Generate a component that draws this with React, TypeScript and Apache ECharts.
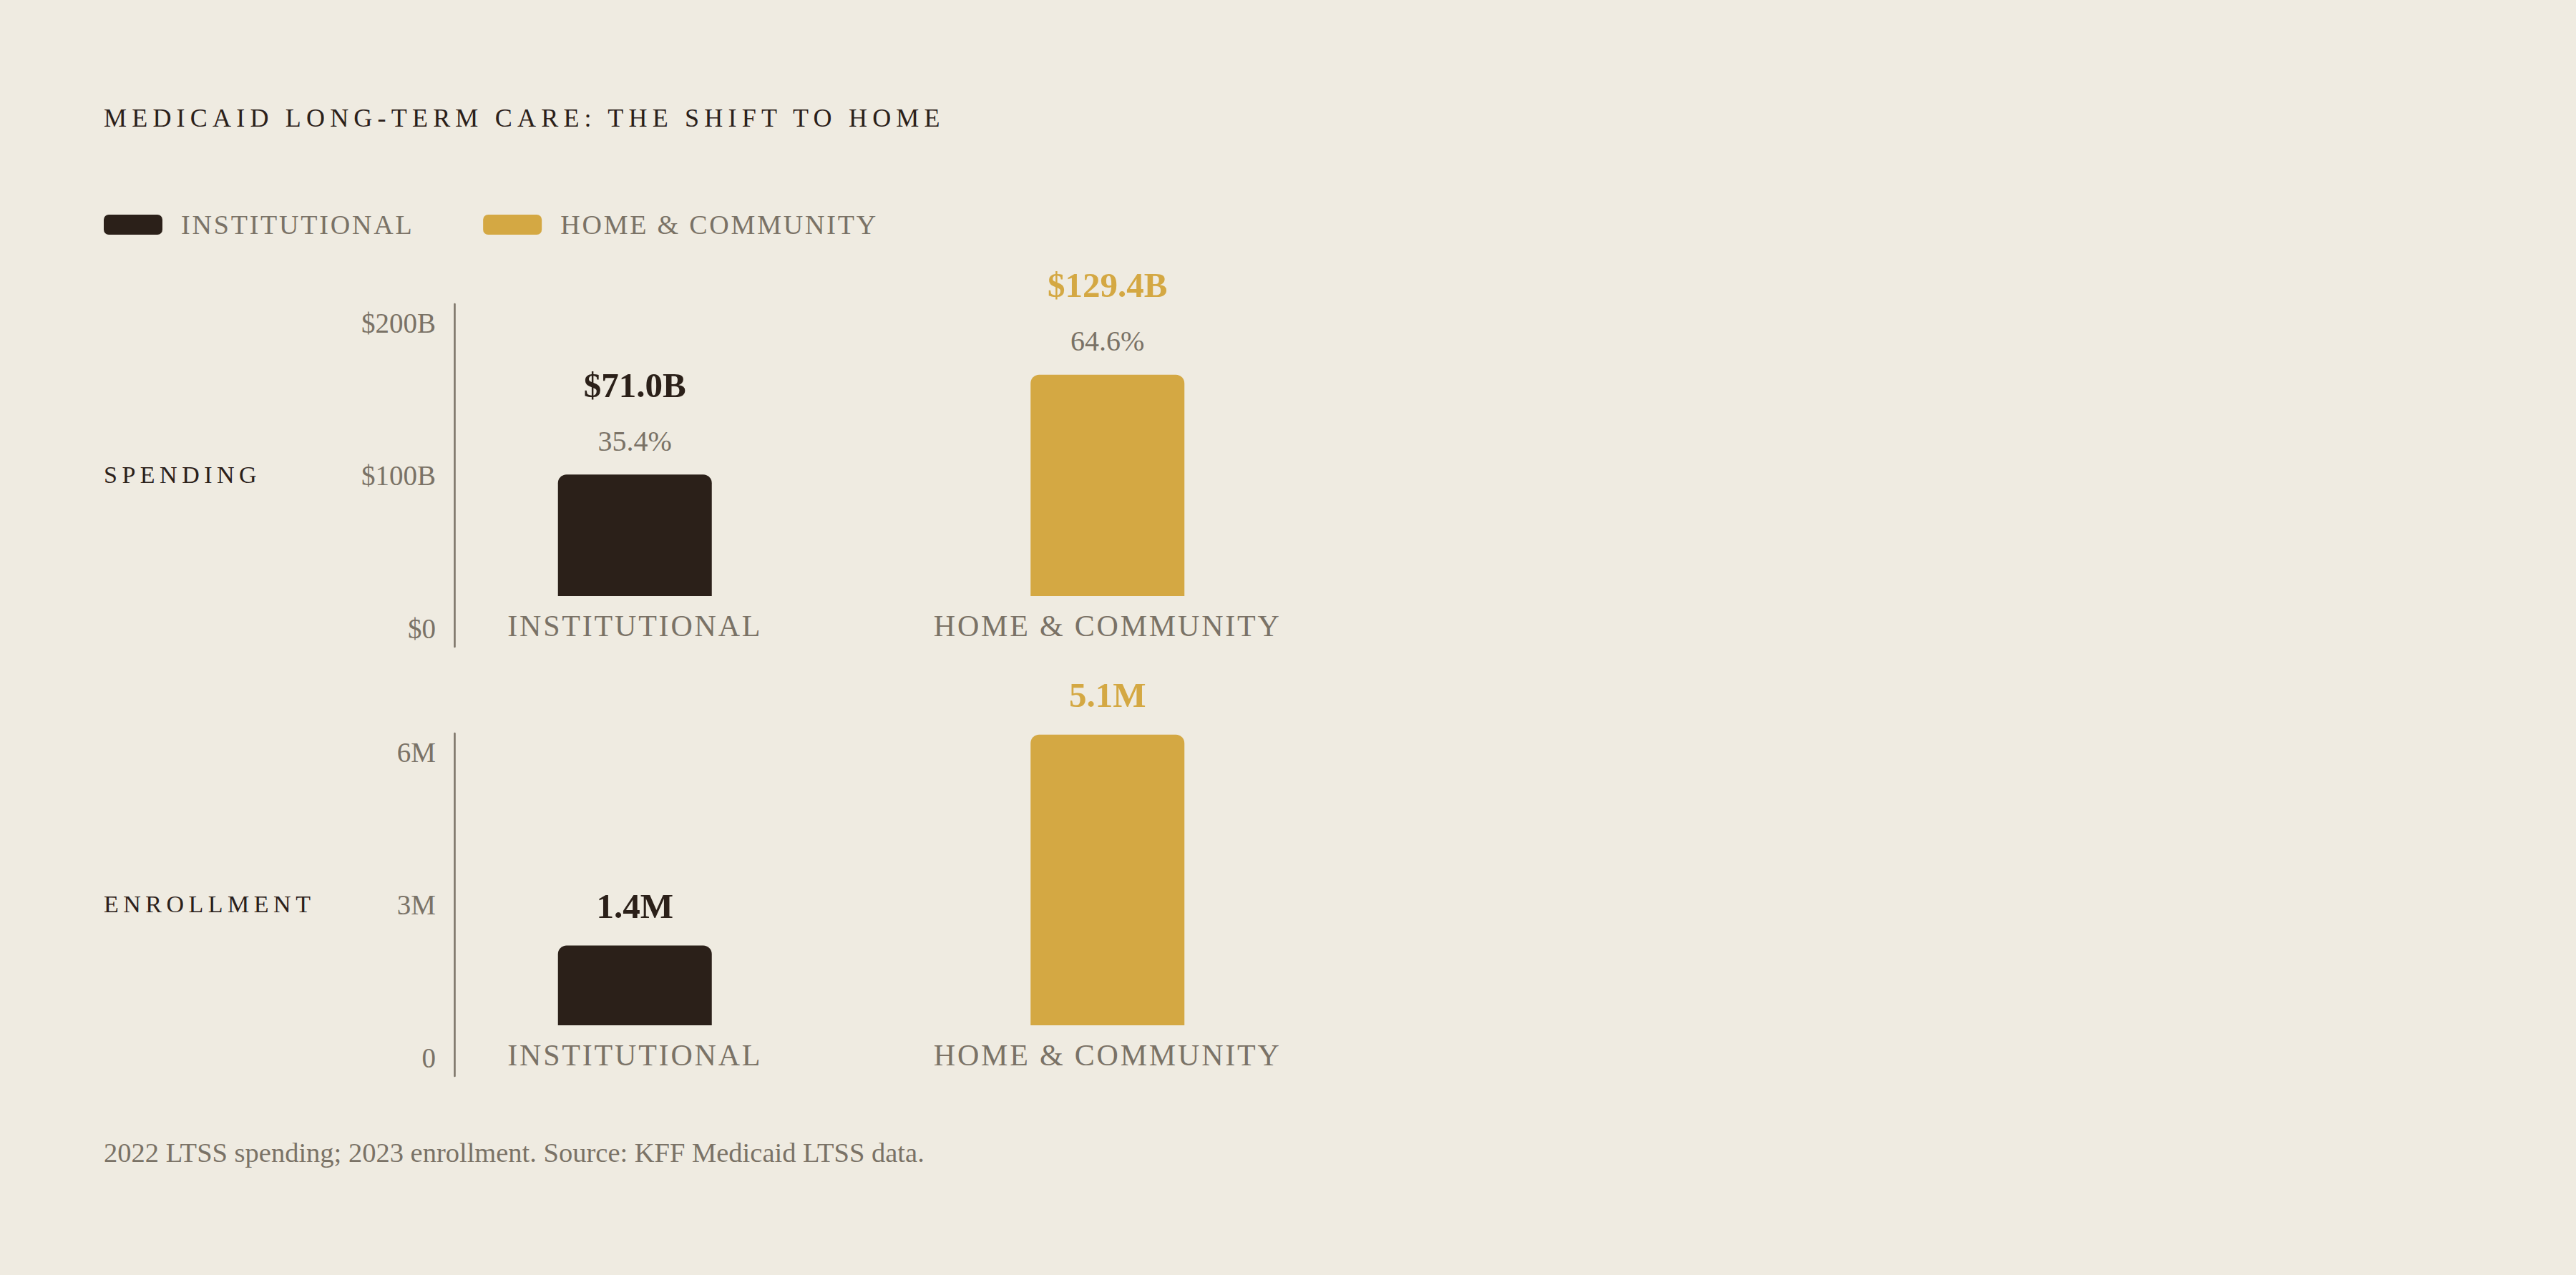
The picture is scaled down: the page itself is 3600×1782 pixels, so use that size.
import { useEffect, useRef } from "react";
import * as echarts from "echarts";

const chartTitle = "MEDICAID LONG-TERM CARE: THE SHIFT TO HOME";
const footnote = "2022 LTSS spending; 2023 enrollment. Source: KFF Medicaid LTSS data.";
const categories = ["INSTITUTIONAL", "HOME & COMMUNITY"];
const spendingBillions = [71.0, 129.4];
const spendingShare = [35.4, 64.6];
const enrollmentMillions = [1.4, 5.1];
const spendingTicks = [0, 100, 200];
const spendingTickLabels = ["$0", "$100B", "$200B"];
const enrollmentTicks = [0, 3, 6];
const enrollmentTickLabels = ["0", "3M", "6M"];

const BG = "#efebe1";
const INK = "#2b2019";
const GOLD = "#d4a843";
const MUTED = "#7a7266";
const barColors = [INK, GOLD];
const FONT = "'Liberation Serif', 'DejaVu Serif', serif";

// echarts has no letterSpacing, so tracking is put on the svg <text> after render
const tracking: Record<string, number> = {
  [chartTitle]: 7.2,
  SPENDING: 6.5,
  ENROLLMENT: 6.5,
  INSTITUTIONAL: 2.8,
  "HOME & COMMUNITY": 2.8,
};

// labels sit a little inside the ends of the axis line
function axisRange(ticks: number[]) {
  const lo = ticks[0];
  const hi = ticks[ticks.length - 1];
  const pad = ((hi - lo) * 26) / 427;
  return { min: lo - pad, max: hi + pad };
}

const panels = [
  {
    name: "SPENDING",
    top: 425,
    values: spendingBillions,
    share: spendingShare as number[] | null,
    ticks: spendingTicks,
    tickLabels: spendingTickLabels,
    fmt: (v: number) => `$${v.toFixed(1)}B`,
  },
  {
    name: "ENROLLMENT",
    top: 1025,
    values: enrollmentMillions,
    share: null,
    ticks: enrollmentTicks,
    tickLabels: enrollmentTickLabels,
    fmt: (v: number) => `${v.toFixed(1)}M`,
  },
];

export default function App() {
  const chartRef = useRef<HTMLDivElement>(null);

  useEffect(() => {
    if (!chartRef.current) return;
    document.body.style.margin = "0";
    const el = chartRef.current;
    const chart = echarts.init(el, null, { renderer: "svg" });

    const grid: any[] = [];
    const xAxis: any[] = [];
    const yAxis: any[] = [];
    const series: any[] = [];
    const graphic: any[] = [];

    panels.forEach((p, k) => {
      const g = k * 2;
      const base = p.top + 408; // zero line of the bars
      const r = axisRange(p.ticks);

      grid.push({ left: 635, top: p.top, width: 10, height: 479, outerBoundsMode: "none" });
      grid.push({ left: 557, top: base - 478, width: 1321, height: 478, outerBoundsMode: "none" });

      // the visible scale (labels spread along the axis line)
      xAxis.push({ gridIndex: g, type: "value", show: false });
      yAxis.push({
        gridIndex: g,
        type: "value",
        min: r.min,
        max: r.max,
        axisLine: { show: true, lineStyle: { color: MUTED, width: 2.5 } },
        axisTick: { show: false },
        splitLine: { show: false },
        axisLabel: {
          customValues: p.ticks,
          formatter: (v: number) => p.tickLabels[p.ticks.indexOf(v)] ?? "",
          color: MUTED,
          fontSize: 39,
          fontFamily: FONT,
          margin: 26,
        },
      });

      // the bars
      xAxis.push({
        gridIndex: g + 1,
        type: "category",
        data: categories,
        axisLine: { show: false },
        axisTick: { show: false },
        axisLabel: { color: MUTED, fontSize: 42, fontFamily: FONT, margin: 21, interval: 0 },
      });
      yAxis.push({ gridIndex: g + 1, type: "value", min: 0, max: p.ticks[p.ticks.length - 1], show: false });

      categories.forEach((name, i) => {
        series.push({
          name,
          type: "bar",
          xAxisIndex: g + 1,
          yAxisIndex: g + 1,
          barWidth: 215,
          barGap: "-100%",
          data: p.values.map((v, j) => (j === i ? v : "-")),
          itemStyle: { color: barColors[i], borderRadius: [12, 12, 0, 0] },
          label: {
            show: true,
            position: "top",
            distance: p.share ? 8 : 16,
            formatter: (prm: any) => {
              const v = p.fmt(prm.value as number);
              return p.share ? `{v|${v}}\n{p|${p.share[prm.dataIndex].toFixed(1)}%}` : `{v|${v}}`;
            },
            rich: {
              v: { fontSize: 49, fontWeight: "bold", color: barColors[i], fontFamily: FONT, lineHeight: 78 },
              p: { fontSize: 40, color: MUTED, fontFamily: FONT, lineHeight: 78 },
            },
          },
        });
      });

      graphic.push({
        type: "text",
        x: 145,
        y: p.top + 238,
        style: { text: p.name, fill: INK, fontSize: 34, fontFamily: FONT, verticalAlign: "middle" },
      });
    });

    graphic.push({
      type: "text",
      x: 145,
      y: 1611,
      style: { text: footnote, fill: MUTED, fontSize: 38.5, fontFamily: FONT, verticalAlign: "middle" },
    });

    const option = {
      animation: false,
      backgroundColor: BG,
      title: {
        text: chartTitle,
        left: 145,
        top: 147,
        padding: 0,
        textStyle: { color: INK, fontSize: 36, fontWeight: "normal", fontFamily: FONT },
      },
      legend: {
        data: categories,
        left: 145,
        top: 295,
        padding: 0,
        itemWidth: 82,
        itemHeight: 28,
        itemGap: 133,
        icon: "roundRect",
        selectedMode: false,
        textStyle: { color: MUTED, fontSize: 38, fontFamily: FONT, padding: [0, 0, 0, 21] },
      },
      grid,
      xAxis,
      yAxis,
      series,
      graphic,
    };

    const applyTracking = () => {
      el.querySelectorAll("text").forEach((t) => {
        const s = tracking[t.textContent ?? ""];
        if (s) t.setAttribute("letter-spacing", String(s));
      });
    };
    chart.on("finished", applyTracking);
    chart.setOption(option);
    applyTracking();

    const handleResize = () => chart.resize();
    window.addEventListener("resize", handleResize);
    return () => {
      window.removeEventListener("resize", handleResize);
      chart.dispose();
    };
  }, []);

  return (
    <div
      ref={chartRef}
      style={{ position: "fixed", left: 0, top: 0, width: "100vw", height: "100vh", background: BG }}
    />
  );
}
